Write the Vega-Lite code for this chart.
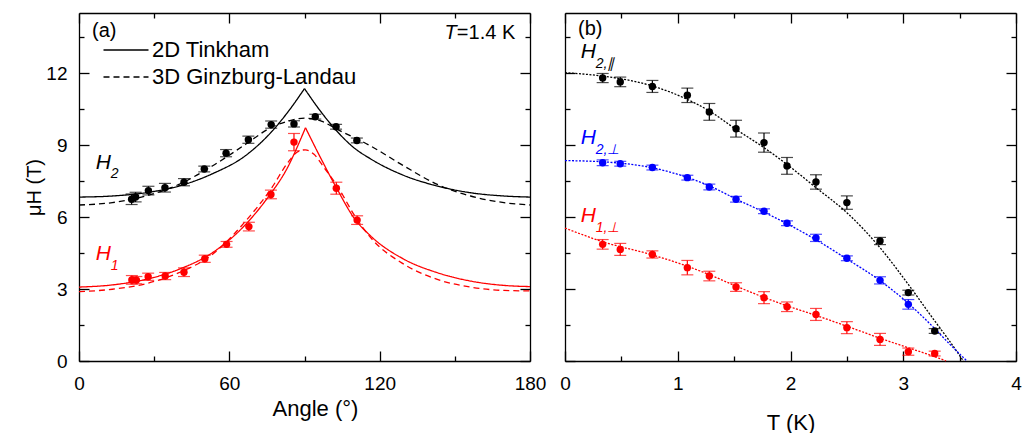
{
  "$schema": "https://vega.github.io/schema/vega-lite/v6.json",
  "padding": {"left": 24, "top": 12, "right": 5, "bottom": 0},
  "background": "white",
  "config": {
    "view": {"stroke": null},
    "font": "Liberation Sans",
    "axis": {
      "labelFont": "Liberation Sans", "titleFont": "Liberation Sans",
      "labelFontSize": 19, "titleFontSize": 22, "titleFontWeight": "normal",
      "domainColor": "black", "domainWidth": 1.3, "tickColor": "black", "tickWidth": 1.3,
      "labelColor": "black", "titleColor": "black", "grid": false,
      "labelFlush": false, "labelOverlap": false
    },
    "legend": {"labelFont": "Liberation Sans"}
  },
  "datasets": {
    "pa": [
      {"angle": 21.0, "H": 6.74, "err": 0.22, "s": "H2"},
      {"angle": 22.6, "H": 6.83, "err": 0.2, "s": "H2"},
      {"angle": 27.7, "H": 7.1, "err": 0.18, "s": "H2"},
      {"angle": 34.3, "H": 7.22, "err": 0.18, "s": "H2"},
      {"angle": 41.9, "H": 7.45, "err": 0.15, "s": "H2"},
      {"angle": 50.0, "H": 8.0, "err": 0.12, "s": "H2"},
      {"angle": 58.7, "H": 8.66, "err": 0.15, "s": "H2"},
      {"angle": 67.6, "H": 9.22, "err": 0.15, "s": "H2"},
      {"angle": 76.7, "H": 9.85, "err": 0.15, "s": "H2"},
      {"angle": 85.8, "H": 9.88, "err": 0.13, "s": "H2"},
      {"angle": 94.3, "H": 10.18, "err": 0.1, "s": "H2"},
      {"angle": 102.6, "H": 9.76, "err": 0.1, "s": "H2"},
      {"angle": 110.9, "H": 9.19, "err": 0.1, "s": "H2"},
      {"angle": 21.1, "H": 3.38, "err": 0.18, "s": "H1"},
      {"angle": 22.9, "H": 3.37, "err": 0.15, "s": "H1"},
      {"angle": 27.6, "H": 3.51, "err": 0.15, "s": "H1"},
      {"angle": 34.4, "H": 3.54, "err": 0.15, "s": "H1"},
      {"angle": 41.9, "H": 3.7, "err": 0.18, "s": "H1"},
      {"angle": 50.2, "H": 4.26, "err": 0.15, "s": "H1"},
      {"angle": 58.9, "H": 4.86, "err": 0.12, "s": "H1"},
      {"angle": 67.8, "H": 5.6, "err": 0.18, "s": "H1"},
      {"angle": 76.6, "H": 6.94, "err": 0.18, "s": "H1"},
      {"angle": 85.8, "H": 9.12, "err": 0.36, "s": "H1"},
      {"angle": 102.7, "H": 7.2, "err": 0.25, "s": "H1"},
      {"angle": 111.0, "H": 5.87, "err": 0.18, "s": "H1"}
    ],
    "ca": [
      {"angle": 0, "H": 6.83, "s": "H2", "m": "2D Tinkham", "seg": "T2L"},
      {"angle": 13.3, "H": 6.875, "s": "H2", "m": "2D Tinkham", "seg": "T2L"},
      {"angle": 26.6, "H": 7.01, "s": "H2", "m": "2D Tinkham", "seg": "T2L"},
      {"angle": 39.9, "H": 7.29, "s": "H2", "m": "2D Tinkham", "seg": "T2L"},
      {"angle": 53.2, "H": 7.8, "s": "H2", "m": "2D Tinkham", "seg": "T2L"},
      {"angle": 66.5, "H": 8.56, "s": "H2", "m": "2D Tinkham", "seg": "T2L"},
      {"angle": 77.1, "H": 9.58, "s": "H2", "m": "2D Tinkham", "seg": "T2L"},
      {"angle": 83.7, "H": 10.42, "s": "H2", "m": "2D Tinkham", "seg": "T2L"},
      {"angle": 90, "H": 11.35, "s": "H2", "m": "2D Tinkham", "seg": "T2L"},
      {"angle": 90, "H": 11.35, "s": "H2", "m": "2D Tinkham", "seg": "T2R"},
      {"angle": 96.3, "H": 10.42, "s": "H2", "m": "2D Tinkham", "seg": "T2R"},
      {"angle": 102.9, "H": 9.58, "s": "H2", "m": "2D Tinkham", "seg": "T2R"},
      {"angle": 109.7, "H": 8.89, "s": "H2", "m": "2D Tinkham", "seg": "T2R"},
      {"angle": 116.4, "H": 8.42, "s": "H2", "m": "2D Tinkham", "seg": "T2R"},
      {"angle": 129.7, "H": 7.73, "s": "H2", "m": "2D Tinkham", "seg": "T2R"},
      {"angle": 143, "H": 7.29, "s": "H2", "m": "2D Tinkham", "seg": "T2R"},
      {"angle": 156.3, "H": 7.01, "s": "H2", "m": "2D Tinkham", "seg": "T2R"},
      {"angle": 169.6, "H": 6.875, "s": "H2", "m": "2D Tinkham", "seg": "T2R"},
      {"angle": 180, "H": 6.83, "s": "H2", "m": "2D Tinkham", "seg": "T2R"},
      {"angle": 0, "H": 3.08, "s": "H1", "m": "2D Tinkham", "seg": "T1L"},
      {"angle": 13.3, "H": 3.17, "s": "H1", "m": "2D Tinkham", "seg": "T1L"},
      {"angle": 26.6, "H": 3.4, "s": "H1", "m": "2D Tinkham", "seg": "T1L"},
      {"angle": 39.9, "H": 3.82, "s": "H1", "m": "2D Tinkham", "seg": "T1L"},
      {"angle": 53.2, "H": 4.51, "s": "H1", "m": "2D Tinkham", "seg": "T1L"},
      {"angle": 66.5, "H": 5.69, "s": "H1", "m": "2D Tinkham", "seg": "T1L"},
      {"angle": 75.8, "H": 6.875, "s": "H1", "m": "2D Tinkham", "seg": "T1L"},
      {"angle": 82.5, "H": 7.92, "s": "H1", "m": "2D Tinkham", "seg": "T1L"},
      {"angle": 90.4, "H": 9.72, "s": "H1", "m": "2D Tinkham", "seg": "T1L"},
      {"angle": 90.4, "H": 9.72, "s": "H1", "m": "2D Tinkham", "seg": "T1R"},
      {"angle": 96.4, "H": 8.47, "s": "H1", "m": "2D Tinkham", "seg": "T1R"},
      {"angle": 103.1, "H": 7.15, "s": "H1", "m": "2D Tinkham", "seg": "T1R"},
      {"angle": 109.7, "H": 5.97, "s": "H1", "m": "2D Tinkham", "seg": "T1R"},
      {"angle": 116.4, "H": 5.21, "s": "H1", "m": "2D Tinkham", "seg": "T1R"},
      {"angle": 129.7, "H": 4.24, "s": "H1", "m": "2D Tinkham", "seg": "T1R"},
      {"angle": 143, "H": 3.68, "s": "H1", "m": "2D Tinkham", "seg": "T1R"},
      {"angle": 156.3, "H": 3.33, "s": "H1", "m": "2D Tinkham", "seg": "T1R"},
      {"angle": 169.6, "H": 3.15, "s": "H1", "m": "2D Tinkham", "seg": "T1R"},
      {"angle": 180, "H": 3.1, "s": "H1", "m": "2D Tinkham", "seg": "T1R"},
      {"angle": 0, "H": 6.5, "s": "H2", "m": "3D Ginzburg-Landau", "seg": "G2"},
      {"angle": 13.3, "H": 6.6, "s": "H2", "m": "3D Ginzburg-Landau", "seg": "G2"},
      {"angle": 26.6, "H": 6.875, "s": "H2", "m": "3D Ginzburg-Landau", "seg": "G2"},
      {"angle": 39.9, "H": 7.36, "s": "H2", "m": "3D Ginzburg-Landau", "seg": "G2"},
      {"angle": 53.2, "H": 8.125, "s": "H2", "m": "3D Ginzburg-Landau", "seg": "G2"},
      {"angle": 66.5, "H": 9.03, "s": "H2", "m": "3D Ginzburg-Landau", "seg": "G2"},
      {"angle": 76.5, "H": 9.72, "s": "H2", "m": "3D Ginzburg-Landau", "seg": "G2"},
      {"angle": 83, "H": 9.98, "s": "H2", "m": "3D Ginzburg-Landau", "seg": "G2"},
      {"angle": 90, "H": 10.12, "s": "H2", "m": "3D Ginzburg-Landau", "seg": "G2"},
      {"angle": 97, "H": 9.98, "s": "H2", "m": "3D Ginzburg-Landau", "seg": "G2"},
      {"angle": 103.1, "H": 9.65, "s": "H2", "m": "3D Ginzburg-Landau", "seg": "G2"},
      {"angle": 116.4, "H": 8.96, "s": "H2", "m": "3D Ginzburg-Landau", "seg": "G2"},
      {"angle": 129.7, "H": 8.125, "s": "H2", "m": "3D Ginzburg-Landau", "seg": "G2"},
      {"angle": 143, "H": 7.36, "s": "H2", "m": "3D Ginzburg-Landau", "seg": "G2"},
      {"angle": 156.3, "H": 6.875, "s": "H2", "m": "3D Ginzburg-Landau", "seg": "G2"},
      {"angle": 169.6, "H": 6.6, "s": "H2", "m": "3D Ginzburg-Landau", "seg": "G2"},
      {"angle": 180, "H": 6.5, "s": "H2", "m": "3D Ginzburg-Landau", "seg": "G2"},
      {"angle": 0, "H": 2.89, "s": "H1", "m": "3D Ginzburg-Landau", "seg": "G1"},
      {"angle": 13.3, "H": 2.99, "s": "H1", "m": "3D Ginzburg-Landau", "seg": "G1"},
      {"angle": 26.6, "H": 3.22, "s": "H1", "m": "3D Ginzburg-Landau", "seg": "G1"},
      {"angle": 39.9, "H": 3.68, "s": "H1", "m": "3D Ginzburg-Landau", "seg": "G1"},
      {"angle": 53.2, "H": 4.44, "s": "H1", "m": "3D Ginzburg-Landau", "seg": "G1"},
      {"angle": 66.5, "H": 5.83, "s": "H1", "m": "3D Ginzburg-Landau", "seg": "G1"},
      {"angle": 76.5, "H": 7.15, "s": "H1", "m": "3D Ginzburg-Landau", "seg": "G1"},
      {"angle": 83.8, "H": 8.33, "s": "H1", "m": "3D Ginzburg-Landau", "seg": "G1"},
      {"angle": 87, "H": 8.7, "s": "H1", "m": "3D Ginzburg-Landau", "seg": "G1"},
      {"angle": 90.3, "H": 8.8, "s": "H1", "m": "3D Ginzburg-Landau", "seg": "G1"},
      {"angle": 93.8, "H": 8.61, "s": "H1", "m": "3D Ginzburg-Landau", "seg": "G1"},
      {"angle": 97.8, "H": 8.06, "s": "H1", "m": "3D Ginzburg-Landau", "seg": "G1"},
      {"angle": 103.1, "H": 7.29, "s": "H1", "m": "3D Ginzburg-Landau", "seg": "G1"},
      {"angle": 109.7, "H": 6.11, "s": "H1", "m": "3D Ginzburg-Landau", "seg": "G1"},
      {"angle": 116.4, "H": 5.14, "s": "H1", "m": "3D Ginzburg-Landau", "seg": "G1"},
      {"angle": 129.7, "H": 4.03, "s": "H1", "m": "3D Ginzburg-Landau", "seg": "G1"},
      {"angle": 143, "H": 3.4, "s": "H1", "m": "3D Ginzburg-Landau", "seg": "G1"},
      {"angle": 156.3, "H": 3.08, "s": "H1", "m": "3D Ginzburg-Landau", "seg": "G1"},
      {"angle": 169.6, "H": 2.94, "s": "H1", "m": "3D Ginzburg-Landau", "seg": "G1"},
      {"angle": 180, "H": 2.92, "s": "H1", "m": "3D Ginzburg-Landau", "seg": "G1"}
    ],
    "pb": [
      {"T": 0.334, "H": 11.79, "err": 0.19, "s": "H2par"},
      {"T": 0.49, "H": 11.63, "err": 0.2, "s": "H2par"},
      {"T": 0.775, "H": 11.44, "err": 0.25, "s": "H2par"},
      {"T": 1.085, "H": 11.07, "err": 0.3, "s": "H2par"},
      {"T": 1.28, "H": 10.38, "err": 0.35, "s": "H2par"},
      {"T": 1.517, "H": 9.68, "err": 0.35, "s": "H2par"},
      {"T": 1.765, "H": 9.1, "err": 0.4, "s": "H2par"},
      {"T": 1.969, "H": 8.13, "err": 0.35, "s": "H2par"},
      {"T": 2.226, "H": 7.46, "err": 0.3, "s": "H2par"},
      {"T": 2.5, "H": 6.6, "err": 0.28, "s": "H2par"},
      {"T": 2.794, "H": 5.0, "err": 0.15, "s": "H2par"},
      {"T": 3.045, "H": 2.85, "err": 0.1, "s": "H2par"},
      {"T": 3.279, "H": 1.25, "err": 0.1, "s": "H2par"},
      {"T": 0.334, "H": 8.26, "err": 0.12, "s": "H2perp"},
      {"T": 0.49, "H": 8.22, "err": 0.1, "s": "H2perp"},
      {"T": 0.775, "H": 8.06, "err": 0.1, "s": "H2perp"},
      {"T": 1.085, "H": 7.64, "err": 0.1, "s": "H2perp"},
      {"T": 1.28, "H": 7.25, "err": 0.12, "s": "H2perp"},
      {"T": 1.517, "H": 6.74, "err": 0.12, "s": "H2perp"},
      {"T": 1.765, "H": 6.24, "err": 0.1, "s": "H2perp"},
      {"T": 1.969, "H": 5.74, "err": 0.1, "s": "H2perp"},
      {"T": 2.226, "H": 5.13, "err": 0.15, "s": "H2perp"},
      {"T": 2.5, "H": 4.28, "err": 0.1, "s": "H2perp"},
      {"T": 2.794, "H": 3.36, "err": 0.15, "s": "H2perp"},
      {"T": 3.045, "H": 2.36, "err": 0.2, "s": "H2perp"},
      {"T": 0.334, "H": 4.86, "err": 0.2, "s": "H1perp"},
      {"T": 0.49, "H": 4.65, "err": 0.25, "s": "H1perp"},
      {"T": 0.775, "H": 4.44, "err": 0.15, "s": "H1perp"},
      {"T": 1.085, "H": 3.89, "err": 0.3, "s": "H1perp"},
      {"T": 1.28, "H": 3.54, "err": 0.2, "s": "H1perp"},
      {"T": 1.517, "H": 3.08, "err": 0.18, "s": "H1perp"},
      {"T": 1.765, "H": 2.64, "err": 0.25, "s": "H1perp"},
      {"T": 1.969, "H": 2.26, "err": 0.2, "s": "H1perp"},
      {"T": 2.226, "H": 1.94, "err": 0.25, "s": "H1perp"},
      {"T": 2.5, "H": 1.39, "err": 0.25, "s": "H1perp"},
      {"T": 2.794, "H": 0.9, "err": 0.25, "s": "H1perp"},
      {"T": 3.045, "H": 0.39, "err": 0.15, "s": "H1perp"},
      {"T": 3.279, "H": 0.31, "err": 0.1, "s": "H1perp"}
    ],
    "cb": [
      {"T": 0, "H": 12.01, "s": "H2par"},
      {"T": 0.334, "H": 11.87, "s": "H2par"},
      {"T": 0.775, "H": 11.46, "s": "H2par"},
      {"T": 1.085, "H": 10.9, "s": "H2par"},
      {"T": 1.28, "H": 10.42, "s": "H2par"},
      {"T": 1.517, "H": 9.65, "s": "H2par"},
      {"T": 1.765, "H": 8.89, "s": "H2par"},
      {"T": 1.969, "H": 8.19, "s": "H2par"},
      {"T": 2.226, "H": 7.22, "s": "H2par"},
      {"T": 2.5, "H": 6.18, "s": "H2par"},
      {"T": 2.794, "H": 4.72, "s": "H2par"},
      {"T": 3.045, "H": 3.19, "s": "H2par"},
      {"T": 3.279, "H": 1.67, "s": "H2par"},
      {"T": 3.4, "H": 0.9, "s": "H2par"},
      {"T": 3.533, "H": 0, "s": "H2par"},
      {"T": 0, "H": 8.35, "s": "H2perp"},
      {"T": 0.334, "H": 8.3, "s": "H2perp"},
      {"T": 0.775, "H": 8.05, "s": "H2perp"},
      {"T": 1.085, "H": 7.65, "s": "H2perp"},
      {"T": 1.28, "H": 7.3, "s": "H2perp"},
      {"T": 1.517, "H": 6.75, "s": "H2perp"},
      {"T": 1.765, "H": 6.2, "s": "H2perp"},
      {"T": 1.969, "H": 5.72, "s": "H2perp"},
      {"T": 2.226, "H": 5.05, "s": "H2perp"},
      {"T": 2.5, "H": 4.25, "s": "H2perp"},
      {"T": 2.794, "H": 3.35, "s": "H2perp"},
      {"T": 3.045, "H": 2.4, "s": "H2perp"},
      {"T": 3.279, "H": 1.35, "s": "H2perp"},
      {"T": 3.4, "H": 0.76, "s": "H2perp"},
      {"T": 3.565, "H": 0, "s": "H2perp"},
      {"T": 0, "H": 5.54, "s": "H1perp"},
      {"T": 0.334, "H": 4.97, "s": "H1perp"},
      {"T": 0.775, "H": 4.42, "s": "H1perp"},
      {"T": 1.085, "H": 3.95, "s": "H1perp"},
      {"T": 1.28, "H": 3.6, "s": "H1perp"},
      {"T": 1.517, "H": 3.12, "s": "H1perp"},
      {"T": 1.765, "H": 2.65, "s": "H1perp"},
      {"T": 1.969, "H": 2.3, "s": "H1perp"},
      {"T": 2.226, "H": 1.9, "s": "H1perp"},
      {"T": 2.5, "H": 1.45, "s": "H1perp"},
      {"T": 2.794, "H": 0.95, "s": "H1perp"},
      {"T": 3.045, "H": 0.55, "s": "H1perp"},
      {"T": 3.279, "H": 0.18, "s": "H1perp"},
      {"T": 3.38, "H": 0, "s": "H1perp"}
    ]
  },
  "spacing": 35,
  "bounds": "flush",
  "resolve": {"scale": {"x": "independent", "y": "independent", "color": "independent", "strokeDash": "independent"}},
  "hconcat": [
    {
      "width": 451,
      "height": 348,
      "resolve": {"axis": {"x": "independent", "y": "independent"}},
      "layer": [
        {
          "encoding": {
            "x": {"field": "angle", "type": "quantitative",
              "scale": {"domain": [0, 180], "nice": false},
              "axis": {"orient": "bottom", "values": [0, 30, 60, 90, 120, 150, 180],
                "labelExpr": "datum.value % 60 === 0 ? datum.label : ''",
                "tickSize": {"expr": "datum.value % 60 === 0 ? -10 : -5"},
                "labelPadding": 23, "title": "Angle (°)", "titlePadding": 0, "titleX": 236}},
            "y": {"field": "H", "type": "quantitative",
              "scale": {"domain": [0, 14.5], "nice": false, "zero": false},
              "axis": {"orient": "left", "values": [0, 1.5, 3, 4.5, 6, 7.5, 9, 10.5, 12, 13.5],
                "labelExpr": "datum.value % 3 === 0 ? datum.label : ''",
                "tickSize": {"expr": "datum.value % 3 === 0 ? -10 : -5"},
                "labelPadding": 22, "title": "μH (T)", "titleFontSize": 20, "titlePadding": 1}}
          },
          "layer": [
            {
              "data": {"name": "ca"},
              "mark": {"type": "line", "interpolate": "monotone", "strokeWidth": 1.3},
              "encoding": {
                "color": {"field": "s", "type": "nominal", "scale": {"domain": ["H2", "H1"], "range": ["#000000", "#ff0000"]}, "legend": null},
                "strokeDash": {"field": "m", "type": "nominal",
                  "scale": {"domain": ["2D Tinkham", "3D Ginzburg-Landau"], "range": [[1, 0], [6, 4]]},
                  "legend": {"orient": "none", "legendX": 36, "legendY": 26, "title": null,
                    "symbolType": "M-5,0H5", "symbolSize": 81, "symbolStrokeColor": "black",
                    "symbolStrokeWidth": 1.3, "symbolFillColor": "transparent",
                    "labelFontSize": 22, "labelColor": "black", "labelOffset": 15, "labelLimit": 0, "rowPadding": 5}},
                "detail": {"field": "seg", "type": "nominal"}
              }
            },
            {
              "data": {"name": "pa"},
              "mark": {"type": "errorbar", "ticks": {"size": 12, "thickness": 1.2}, "thickness": 1.2},
              "encoding": {
                "yError": {"field": "err"},
                "color": {"field": "s", "type": "nominal", "scale": {"domain": ["H2", "H1"], "range": ["#000000", "#ff0000"]}, "legend": null}
              }
            },
            {
              "data": {"name": "pa"},
              "mark": {"type": "circle", "size": 55, "opacity": 1},
              "encoding": {
                "color": {"field": "s", "type": "nominal", "scale": {"domain": ["H2", "H1"], "range": ["#000000", "#ff0000"]}, "legend": null}
              }
            },
            {
              "data": {"values": [
                {"angle": 6.7, "H": 8.23, "s": "H2", "t": "H"},
                {"angle": 6.7, "H": 4.46, "s": "H1", "t": "H"}
              ]},
              "mark": {"type": "text", "fontSize": 21, "fontStyle": "italic", "align": "left", "baseline": "middle"},
              "encoding": {
                "text": {"field": "t"},
                "color": {"field": "s", "type": "nominal", "scale": {"domain": ["H2", "H1"], "range": ["#000000", "#ff0000"]}, "legend": null}
              }
            },
            {
              "data": {"values": [
                {"angle": 12.7, "H": 7.79, "s": "H2", "t": "2"},
                {"angle": 12.7, "H": 3.96, "s": "H1", "t": "1"}
              ]},
              "mark": {"type": "text", "fontSize": 14, "fontStyle": "italic", "align": "left", "baseline": "middle"},
              "encoding": {
                "text": {"field": "t"},
                "color": {"field": "s", "type": "nominal", "scale": {"domain": ["H2", "H1"], "range": ["#000000", "#ff0000"]}, "legend": null}
              }
            },
            {
              "data": {"values": [
                {"angle": 5.2, "H": 13.77, "t": "(a)"},
                {"angle": 150.8, "H": 13.65, "t": "=1.4 K"}
              ]},
              "mark": {"type": "text", "fontSize": 20, "align": "left", "baseline": "middle", "color": "black"},
              "encoding": {"text": {"field": "t"}}
            },
            {
              "data": {"values": [
                {"angle": 145.9, "H": 13.65, "t": "T"}
              ]},
              "mark": {"type": "text", "fontSize": 20, "fontStyle": "italic", "align": "left", "baseline": "middle", "color": "black"},
              "encoding": {"text": {"field": "t"}}
            }
          ]
        },
        {
          "data": {"name": "pa"},
          "mark": {"type": "point", "opacity": 0},
          "encoding": {
            "x": {"field": "angle", "type": "quantitative", "scale": {"domain": [0, 180], "nice": false},
              "axis": {"orient": "top", "values": [0, 30, 60, 90, 120, 150, 180], "labels": false, "title": null,
                "tickSize": {"expr": "datum.value % 60 === 0 ? -10 : -5"}}},
            "y": {"field": "H", "type": "quantitative", "scale": {"domain": [0, 14.5], "nice": false, "zero": false},
              "axis": {"orient": "right", "values": [0, 1.5, 3, 4.5, 6, 7.5, 9, 10.5, 12, 13.5], "labels": false, "title": null,
                "tickSize": {"expr": "datum.value % 3 === 0 ? -10 : -5"}}}
          }
        }
      ]
    },
    {
      "width": 451,
      "height": 348,
      "resolve": {"axis": {"x": "independent", "y": "independent"}},
      "layer": [
        {
          "encoding": {
            "x": {"field": "T", "type": "quantitative",
              "scale": {"domain": [0, 4], "nice": false},
              "axis": {"orient": "bottom", "values": [0, 0.5, 1, 1.5, 2, 2.5, 3, 3.5, 4],
                "labelExpr": "datum.value % 1 === 0 ? format(datum.value, 'd') : ''",
                "tickSize": {"expr": "datum.value % 1 === 0 ? -10 : -5"},
                "labelPadding": 23, "title": "T (K)", "titlePadding": 14}},
            "y": {"field": "H", "type": "quantitative",
              "scale": {"domain": [0, 14.5], "nice": false, "zero": false},
              "axis": {"orient": "left", "values": [0, 1.5, 3, 4.5, 6, 7.5, 9, 10.5, 12, 13.5],
                "labels": false, "title": null,
                "tickSize": {"expr": "datum.value % 3 === 0 ? -10 : -5"}}}
          },
          "layer": [
            {
              "data": {"name": "cb"},
              "mark": {"type": "line", "interpolate": "monotone", "strokeWidth": 1.3, "strokeDash": [2, 1.5]},
              "encoding": {
                "color": {"field": "s", "type": "nominal", "scale": {"domain": ["H2par", "H2perp", "H1perp"], "range": ["#000000", "#0000ff", "#ff0000"]}, "legend": null}
              }
            },
            {
              "data": {"name": "pb"},
              "mark": {"type": "errorbar", "ticks": {"size": 12, "thickness": 1.2}, "thickness": 1.2},
              "encoding": {
                "yError": {"field": "err"},
                "color": {"field": "s", "type": "nominal", "scale": {"domain": ["H2par", "H2perp", "H1perp"], "range": ["#000000", "#0000ff", "#ff0000"]}, "legend": null}
              }
            },
            {
              "data": {"name": "pb"},
              "mark": {"type": "circle", "size": 55, "opacity": 1},
              "encoding": {
                "color": {"field": "s", "type": "nominal", "scale": {"domain": ["H2par", "H2perp", "H1perp"], "range": ["#000000", "#0000ff", "#ff0000"]}, "legend": null}
              }
            },
            {
              "data": {"values": [
                {"T": 0.14, "H": 12.88, "s": "H2par", "t": "H"},
                {"T": 0.14, "H": 9.29, "s": "H2perp", "t": "H"},
                {"T": 0.14, "H": 6.06, "s": "H1perp", "t": "H"}
              ]},
              "mark": {"type": "text", "fontSize": 21, "fontStyle": "italic", "align": "left", "baseline": "middle"},
              "encoding": {
                "text": {"field": "t"},
                "color": {"field": "s", "type": "nominal", "scale": {"domain": ["H2par", "H2perp", "H1perp"], "range": ["#000000", "#0000ff", "#ff0000"]}, "legend": null}
              }
            },
            {
              "data": {"values": [
                {"T": 0.272, "H": 12.375, "s": "H2par", "t": "2,∥"},
                {"T": 0.272, "H": 8.79, "s": "H2perp", "t": "2,⊥"},
                {"T": 0.272, "H": 5.54, "s": "H1perp", "t": "1,⊥"}
              ]},
              "mark": {"type": "text", "fontSize": 14, "fontStyle": "italic", "align": "left", "baseline": "middle"},
              "encoding": {
                "text": {"field": "t"},
                "color": {"field": "s", "type": "nominal", "scale": {"domain": ["H2par", "H2perp", "H1perp"], "range": ["#000000", "#0000ff", "#ff0000"]}, "legend": null}
              }
            },
            {
              "data": {"values": [
                {"T": 0.115, "H": 13.85, "t": "(b)"}
              ]},
              "mark": {"type": "text", "fontSize": 20, "align": "left", "baseline": "middle", "color": "black"},
              "encoding": {"text": {"field": "t"}}
            }
          ]
        },
        {
          "data": {"name": "pb"},
          "mark": {"type": "point", "opacity": 0},
          "encoding": {
            "x": {"field": "T", "type": "quantitative", "scale": {"domain": [0, 4], "nice": false},
              "axis": {"orient": "top", "values": [0, 0.5, 1, 1.5, 2, 2.5, 3, 3.5, 4], "labels": false, "title": null,
                "tickSize": {"expr": "datum.value % 1 === 0 ? -10 : -5"}}},
            "y": {"field": "H", "type": "quantitative", "scale": {"domain": [0, 14.5], "nice": false, "zero": false},
              "axis": {"orient": "right", "values": [0, 1.5, 3, 4.5, 6, 7.5, 9, 10.5, 12, 13.5], "labels": false, "title": null,
                "tickSize": {"expr": "datum.value % 3 === 0 ? -10 : -5"}}}
          }
        }
      ]
    }
  ]
}
